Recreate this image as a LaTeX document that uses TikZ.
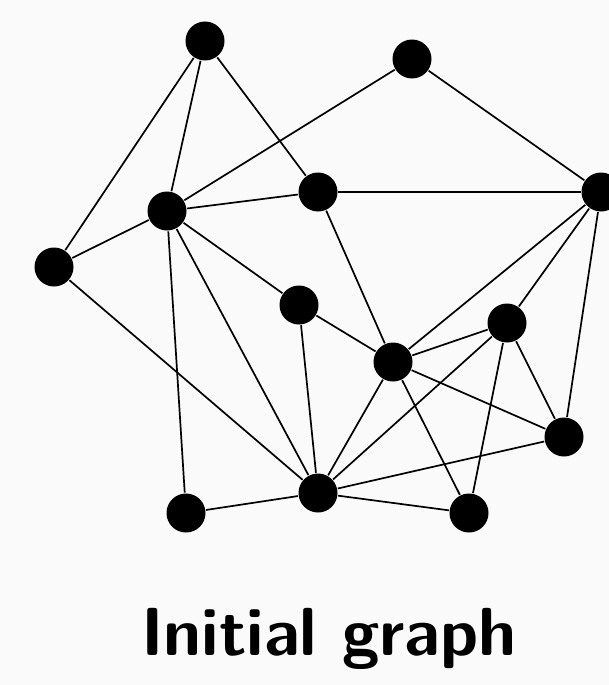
\documentclass[tikz,border=0pt]{standalone}
\usepackage{tikz}
\definecolor{PaperGray}{HTML}{FAFAFA}

\begin{document}
\begin{tikzpicture}[x=1pt,y=-1pt,line width=1.7pt,
  vtx/.style={circle,fill=black,inner sep=0pt,minimum size=39pt}]
\fill[PaperGray] (0,0) rectangle (609,685);
\useasboundingbox (0,0) rectangle (609,685);
\node[vtx] (a) at (205,41) {};
\node[vtx] (b) at (412,59) {};
\node[vtx] (c) at (167,211) {};
\node[vtx] (d) at (318,192) {};
\node[vtx] (e) at (601,192) {};
\node[vtx] (f) at (54,267) {};
\node[vtx] (g) at (299,305) {};
\node[vtx] (h) at (507,323) {};
\node[vtx] (i) at (393,362) {};
\node[vtx] (j) at (564,437) {};
\node[vtx] (k) at (186,513) {};
\node[vtx] (l) at (318,493) {};
\node[vtx] (m) at (469,513) {};
\foreach \u/\v in {a/c,a/f,a/d,b/c,b/e,c/d,c/f,c/g,c/l,c/k,d/e,d/i,
  f/l,g/i,g/l,e/i,e/h,e/j,h/i,h/l,h/m,h/j,i/l,i/m,i/j,l/k,l/m,l/j}
  \draw (\u) -- (\v);
\node[font=\fontsize{68}{80}\selectfont\sffamily\bfseries,anchor=base] (title) at (329,655) {Initial graph};
\end{tikzpicture}
\end{document}
